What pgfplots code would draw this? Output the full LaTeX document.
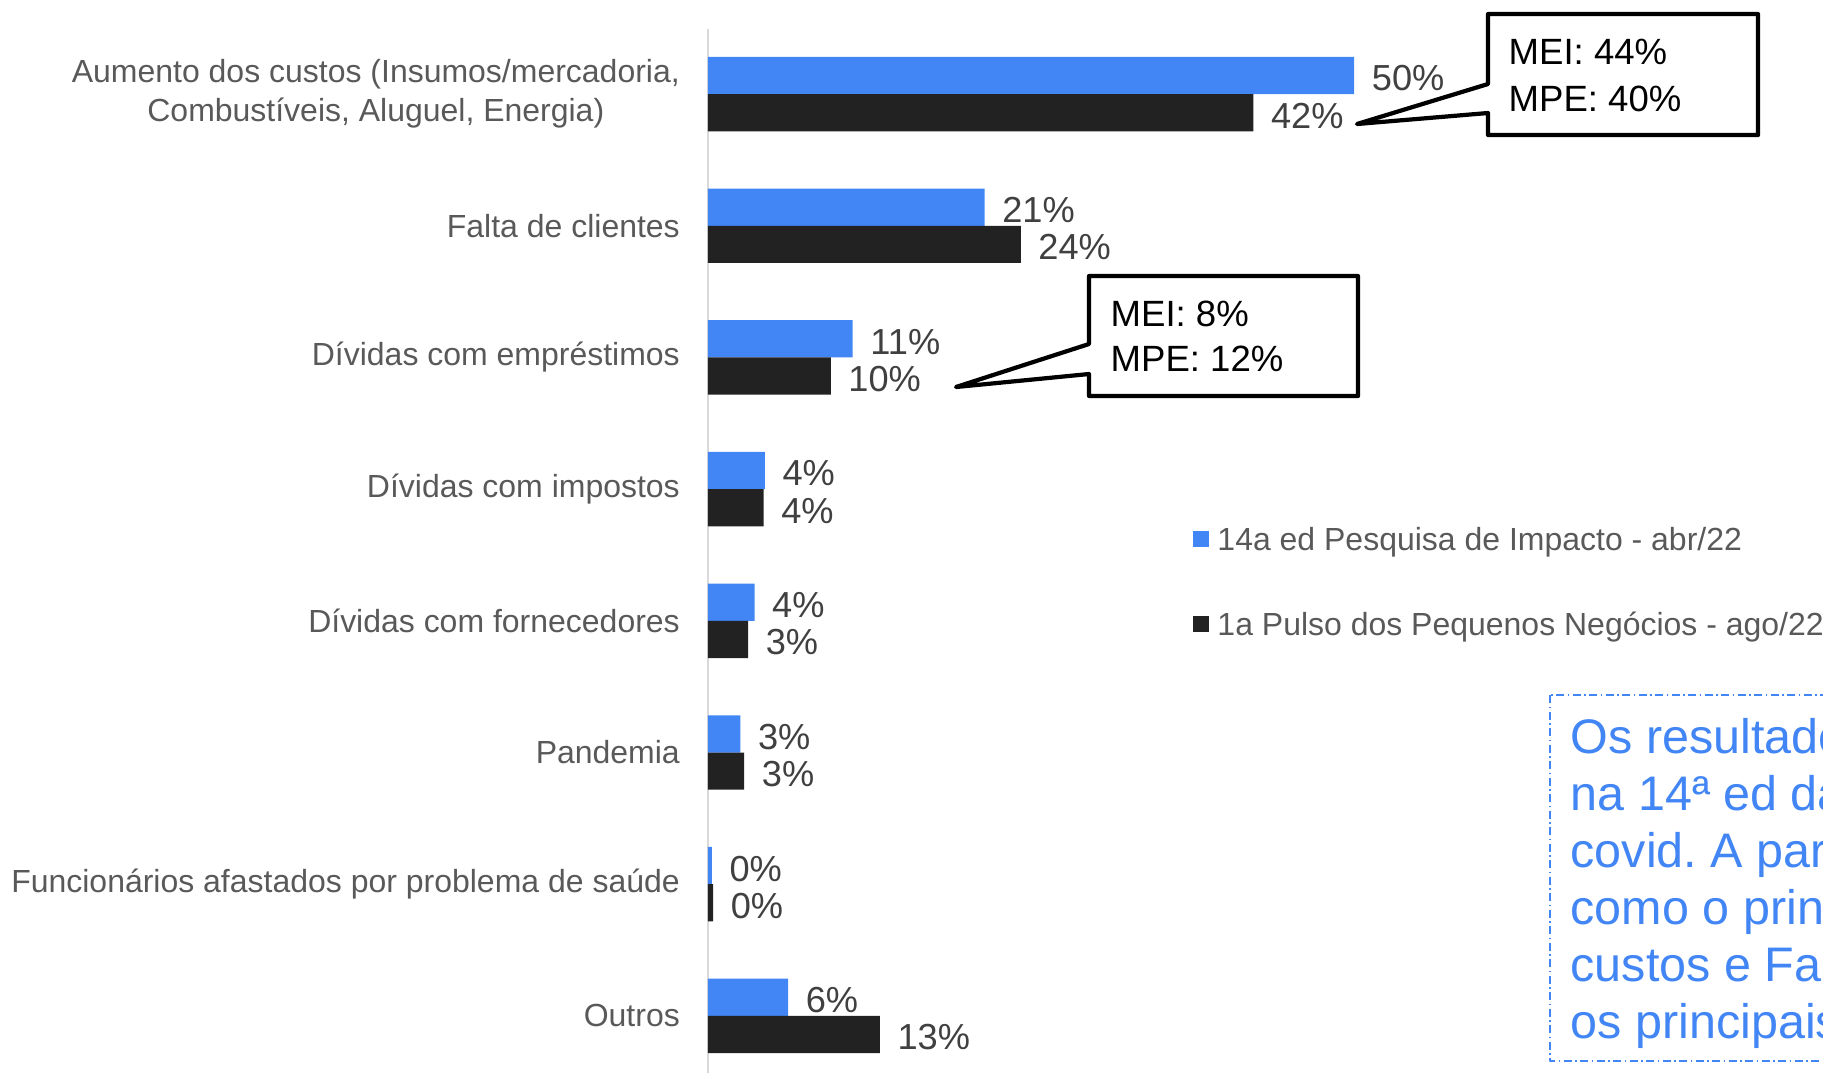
\documentclass[border=0pt]{standalone}
\usepackage{fontspec}
\setmainfont{Liberation Sans}
\usepackage{pgfplots}
\pgfplotsset{compat=1.18}
\usepackage{pgfplotstable}
\frenchspacing

\definecolor{barblue}{HTML}{4285F4}
\definecolor{barblack}{HTML}{222222}
\definecolor{labgray}{HTML}{595959}
\definecolor{valgray}{HTML}{404040}
\definecolor{axgray}{HTML}{D9D9D9}

% 14a ed Pesquisa de Impacto - abr/22
\pgfplotstableread{
c v lab
0 50.0 50
1 21.4 21
2 11.2 11
3 4.4 4
4 3.6 4
5 2.5 3
6 0.3 0
7 6.2 6
}\tabA
% 1a Pulso dos Pequenos Negocios - ago/22
\pgfplotstableread{
c v lab
0 42.2 42
1 24.2 24
2 9.5 10
3 4.3 4
4 3.1 3
5 2.8 3
6 0.4 0
7 13.3 13
}\tabB

\begin{document}
\begin{tikzpicture}
\path[use as bounding box] (0,0) rectangle (182.3mm,-107.3mm);
\clip (0,0) rectangle (182.3mm,-107.3mm);
\begin{axis}[
  at={(70.8mm,-2.9mm)}, anchor=north west,
  scale only axis, width=103.4mm, height=104.4mm,
  xbar, bar width=3.72mm,
  xmin=0, xmax=80,
  ymin=-0.494, ymax=7.434,
  y dir=reverse,
  axis x line=none,
  axis y line=left,
  y axis line style={-, draw=axgray, line width=0.6pt},
  ytick={0,...,7},
  yticklabels={{Aumento dos custos (Insumos/mercadoria,\\Combustíveis, Aluguel, Energia)},
    Falta de clientes, Dívidas com empréstimos, Dívidas com impostos,
    Dívidas com fornecedores, Pandemia,
    Funcionários afastados por problema de saúde, Outros},
  ytick style={draw=none},
  yticklabel style={font=\fontsize{9.1}{11.1}\selectfont, text=labgray, align=center, inner sep=0pt, xshift=-2.0mm},
  point meta=explicit,
  nodes near coords={\pgfmathprintnumber[assume math mode=true]{\pgfplotspointmeta}\%},
  every node near coord/.append style={font=\fontsize{10.3}{12}\selectfont, text=valgray, inner sep=0pt, anchor=west, xshift=1.7mm, yshift=-0.3mm},
  legend image code/.code={\fill[#1] (0mm,-0.5mm) rectangle (1.6mm,1.1mm);},
  legend cell align=left,
  legend style={draw=none, fill=none, at={(axis cs:37.51,3.724)}, anchor=west,
    font=\fontsize{9.1}{10.8}\selectfont, text=labgray,
    inner sep=0pt, row sep=5.4mm, column sep=0.8mm,
    nodes={inner sep=0pt, text height=2.4mm, text depth=0.7mm}},
]
\addplot[fill=barblue, draw=none, bar shift=1.86mm] table[x=v, y=c, meta=lab] {\tabA};
\addlegendentry{14a ed Pesquisa de Impacto - abr/22}
\addplot[fill=barblack, draw=none, bar shift=-1.86mm] table[x=v, y=c, meta=lab] {\tabB};
\addlegendentry{1a Pulso dos Pequenos Negócios - ago/22}
\end{axis}

\begin{scope}[x=0.1mm, y=-0.1mm, line join=round]
  % callouts
  \draw[line width=1.2pt, fill=white] (1488,14) -- (1758,14) -- (1758,135) -- (1488,135)
    -- (1488,113) -- (1357,124) -- (1488,84) -- cycle;
  \node[anchor=west, align=left, inner sep=0pt, font=\fontsize{10.4}{13.4}\selectfont] at (1508,75.5) {MEI: 44\%\\MPE: 40\%};
  \draw[line width=1.2pt, fill=white] (1089,276) -- (1358,276) -- (1358,396) -- (1089,396)
    -- (1089,374) -- (956,387) -- (1089,344) -- cycle;
  \node[anchor=west, align=left, inner sep=0pt, font=\fontsize{10.4}{12.8}\selectfont] at (1110,336.5) {MEI: 8\%\\MPE: 12\%};
  % text box
  \draw[barblue, line width=0.5pt, dash pattern=on 0.8mm off 0.35mm on 0.15mm off 0.35mm] (1550,695) rectangle (1950,1061);
  \node[anchor=north west, align=left, inner sep=0pt, text=barblue, font=\fontsize{13.8}{16.2}\selectfont] at (1570,718)
    {Os resultados observados\\na 14ª ed da Pesquisa de Impacto\\covid. A partir de agora, aparece\\como o principal problema o Aumento dos\\custos e Falta de clientes entre\\os principais desafios};
\end{scope}
\end{tikzpicture}
\end{document}
